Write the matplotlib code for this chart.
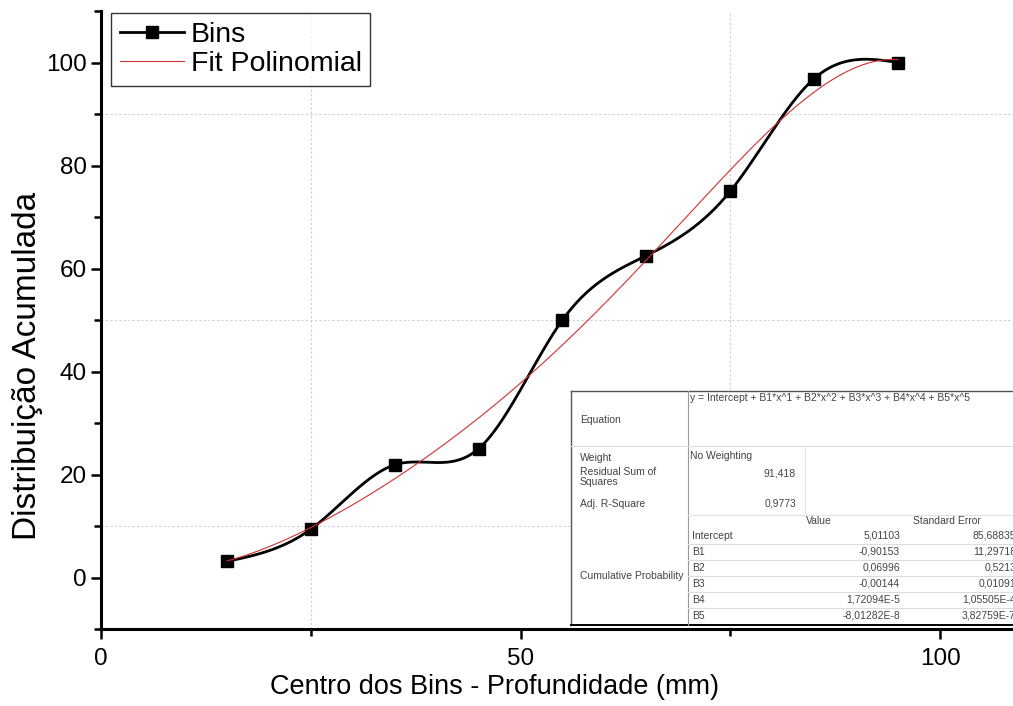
import numpy as np
import matplotlib
matplotlib.use("Agg")
import matplotlib.pyplot as plt
from matplotlib.lines import Line2D
from matplotlib.ticker import MultipleLocator, FixedLocator

plt.rcParams['font.family'] = ['Liberation Sans', 'DejaVu Sans']

# Cumulative distribution per bin
bin_centers = [15, 25, 35, 45, 55, 65, 75, 85, 95]
cum_dist = [3.125, 9.375, 21.875, 25.0, 50.0, 62.5, 75.0, 96.875, 100.0]

# Fit report (values as printed by the fitting tool)
fit_equation = "y = Intercept + B1*x^1 + B2*x^2 + B3*x^3 + B4*x^4 + B5*x^5"
fit_weight = "No Weighting"
fit_rss = "91,418"
fit_adj_r2 = "0,9773"
param_names = ["Intercept", "B1", "B2", "B3", "B4", "B5"]
param_values = ["5,01103", "-0,90153", "0,06996", "-0,00144", "1,72094E-5", "-8,01282E-8"]
param_errors = ["85,68835", "11,29718", "0,5213", "0,01091", "1,05505E-4", "3,82759E-7"]


def natural_spline(x, y, xs):
    x = np.asarray(x, float)
    y = np.asarray(y, float)
    n = len(x)
    h = np.diff(x)
    A = np.zeros((n - 2, n - 2))
    rhs = np.zeros(n - 2)
    for i in range(1, n - 1):
        A[i - 1, i - 1] = 2 * (h[i - 1] + h[i])
        if i > 1:
            A[i - 1, i - 2] = h[i - 1]
        if i < n - 2:
            A[i - 1, i] = h[i]
        rhs[i - 1] = 6 * ((y[i + 1] - y[i]) / h[i] - (y[i] - y[i - 1]) / h[i - 1])
    M = np.zeros(n)
    M[1:-1] = np.linalg.solve(A, rhs)
    k = np.clip(np.searchsorted(x, xs) - 1, 0, n - 2)
    dx = xs - x[k]
    hk = h[k]
    a = (M[k + 1] - M[k]) / (6 * hk)
    b = M[k] / 2
    c = (y[k + 1] - y[k]) / hk - hk * (2 * M[k] + M[k + 1]) / 6
    return y[k] + c * dx + b * dx ** 2 + a * dx ** 3


W, H = 1013, 706
fig = plt.figure(figsize=(W / 100, H / 100), dpi=100)
ax = fig.add_axes([101 / W, 1 - 629 / H, 1 - 101 / W, (629 - 11) / H])


def fx(px):
    return px / W


def fy(py):
    return 1 - py / H


xs = np.linspace(bin_centers[0], bin_centers[-1], 400)

# grid lines (dotted, light)
for gy in [10, 50, 90]:
    ax.axhline(gy, color='#cfcfcf', lw=0.8, ls=(0, (2, 2)), zorder=0)
for gx in [25, 75]:
    ax.axvline(gx, color='#cfcfcf', lw=0.8, ls=(0, (2, 2)), zorder=0)

ax.plot(xs, natural_spline(bin_centers, cum_dist, xs), color='black', lw=2.0, zorder=3)
ax.plot(bin_centers, cum_dist, ls='none', marker='s', ms=8, color='black', zorder=4)

coef = np.polyfit(bin_centers, cum_dist, 5)
ax.plot(xs, np.polyval(coef, xs), color='#d03030', lw=0.8, zorder=5)

ax.set_xlim(0, 108.7)
ax.set_ylim(-10, 110)
ax.xaxis.set_major_locator(FixedLocator([0, 50, 100]))
ax.xaxis.set_minor_locator(FixedLocator([25, 75]))
ax.yaxis.set_major_locator(MultipleLocator(20))
ax.yaxis.set_minor_locator(FixedLocator(np.arange(-10, 111, 20)))
ax.tick_params(which='major', direction='out', length=7, width=1.8, labelsize=17.5)
ax.tick_params(axis='x', which='major', pad=7)
ax.tick_params(axis='y', which='major', pad=3)
ax.tick_params(which='minor', direction='out', length=5, width=1.8)
for s in ['top', 'right']:
    ax.spines[s].set_visible(False)
for s in ['left', 'bottom']:
    ax.spines[s].set_linewidth(2.2)

ax.set_xlabel('Centro dos Bins - Profundidade (mm)', fontsize=19.5)
ax.xaxis.set_label_coords(0.432, -0.073)
ax.set_ylabel('Distribuição Acumulada', fontsize=24)
ax.yaxis.set_label_coords(-0.064, 0.425)

handles = [
    Line2D([], [], color='black', lw=2.0, marker='s', ms=8),
    Line2D([], [], color='#d03030', lw=0.8),
]
leg = ax.legend(handles, ['Bins', 'Fit Polinomial'], loc='upper left',
                bbox_to_anchor=(fx(111), fy(13)), bbox_transform=fig.transFigure,
                borderaxespad=0, fancybox=False, edgecolor='black', fontsize=20.5,
                handlelength=2.25, handletextpad=0.25, borderpad=0.3, labelspacing=0.12)
leg.get_frame().set_linewidth(1.0)

# fit report table
tab = dict(fontsize=7.5, color='#444444', va='center')
left, col1, col2, right = 571, 688, 805, 1013
top, bottom = 391, 625


def hline(y, x0, x1, color, lw=0.8):
    fig.add_artist(Line2D([fx(x0), fx(x1)], [fy(y), fy(y)], color=color, lw=lw, zorder=10))


def vline(x, y0, y1, color, lw=0.8):
    fig.add_artist(Line2D([fx(x), fx(x)], [fy(y0), fy(y1)], color=color, lw=lw, zorder=10))


fig.patches.append(plt.Rectangle((fx(left), fy(bottom)), fx(right - left), (bottom - top) / H,
                                 transform=fig.transFigure, facecolor='white', edgecolor='none',
                                 zorder=9))
hline(top, left, right, '#555555', 1.0)
vline(left, top, bottom, '#555555', 1.0)
hline(bottom, left, right, 'black', 1.4)
vline(col1, top, bottom, '#9a9a9a')
hline(446, left, right, '#dddddd')
vline(col2, 446, 515, '#e4e4e4')
hline(515, col1, right, '#e4e4e4')

fig.text(fx(580), fy(420), 'Equation', zorder=11, **tab)
fig.text(fx(690), fy(398), fit_equation, zorder=11, **tab)
fig.text(fx(580), fy(458), 'Weight', zorder=11, **tab)
fig.text(fx(690), fy(456), fit_weight, zorder=11, **tab)
fig.text(fx(580), fy(472), 'Residual Sum of', zorder=11, **tab)
fig.text(fx(580), fy(482), 'Squares', zorder=11, **tab)
fig.text(fx(796), fy(473), fit_rss, ha='right', zorder=11, **tab)
fig.text(fx(580), fy(504), 'Adj. R-Square', zorder=11, **tab)
fig.text(fx(796), fy(504), fit_adj_r2, ha='right', zorder=11, **tab)
fig.text(fx(806), fy(521), 'Value', zorder=11, **tab)
fig.text(fx(913), fy(521), 'Standard Error', zorder=11, **tab)
fig.text(fx(580), fy(576), 'Cumulative Probability', zorder=11, **tab)

row_top = 528
row_h = 16
for i, (name, val, err) in enumerate(zip(param_names, param_values, param_errors)):
    yc = row_top + row_h * (i + 0.5)
    fig.text(fx(692), fy(yc), name, zorder=11, **tab)
    fig.text(fx(900), fy(yc), val, ha='right', zorder=11, **tab)
    fig.text(fx(1016), fy(yc), err, ha='right', zorder=11, **tab)
    if i > 0:
        hline(row_top + row_h * i, col1, right, '#dddddd')

fig.savefig('out.png', dpi=100)
